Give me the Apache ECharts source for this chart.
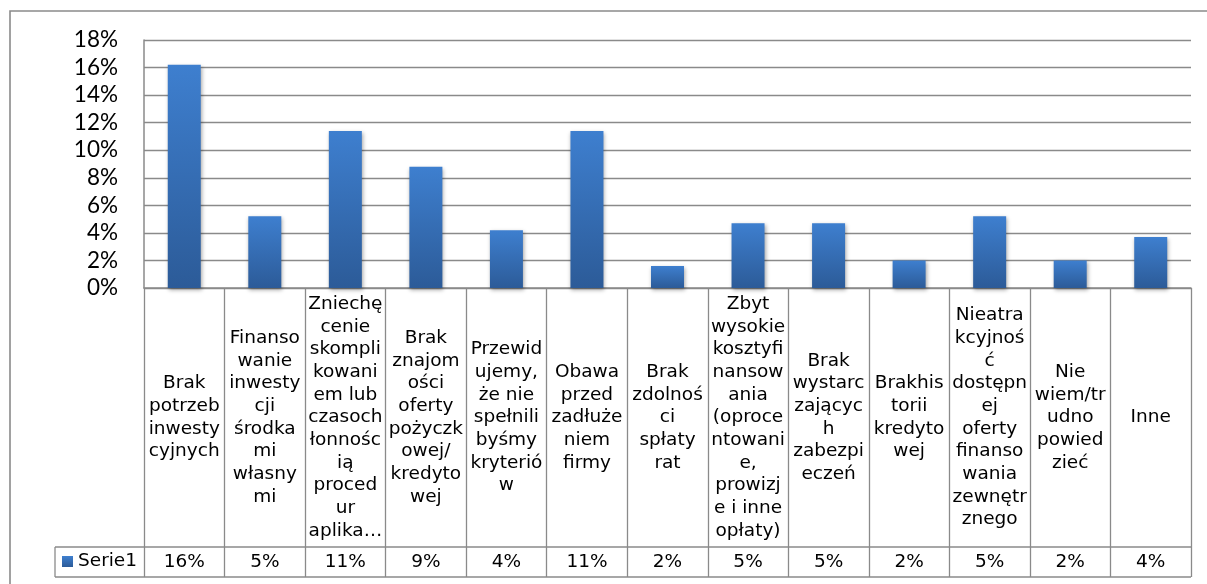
<!DOCTYPE html>
<html>
<head>
<meta charset="utf-8">
<script src="https://cdn.jsdelivr.net/npm/echarts@6/dist/echarts.min.js"></script>
<style>
  html, body { margin: 0; padding: 0; background: #fff; }
  #chart { width: 1207px; height: 584px; }
</style>
</head>
<body>
<div id="chart"></div>
<script>
// Category names, wrapped the way they appear in the data table cells
const categories = [
  'Brak\npotrzeb\ninwesty\ncyjnych',
  'Finanso\nwanie\ninwesty\ncji\nśrodka\nmi\nwłasny\nmi',
  'Zniechę\ncenie\nskompli\nkowani\nem lub\nczasoch\nłonnośc\nią\nproced\nur\naplika…',
  'Brak\nznajom\ności\noferty\npożyczk\nowej/\nkredyto\nwej',
  'Przewid\nujemy,\nże nie\nspełnili\nbyśmy\nkryterió\nw',
  'Obawa\nprzed\nzadłuże\nniem\nfirmy',
  'Brak\nzdolnoś\nci\nspłaty\nrat',
  'Zbyt\nwysokie\nkosztyfi\nnansow\nania\n(oproce\nntowani\ne,\nprowizj\ne i inne\nopłaty)',
  'Brak\nwystarc\nzającyc\nh\nzabezpi\neczeń',
  'Brakhis\ntorii\nkredyto\nwej',
  'Nieatra\nkcyjnoś\nć\ndostępn\nej\noferty\nfinanso\nwania\nzewnętr\nznego',
  'Nie\nwiem/tr\nudno\npowied\nzieć',
  'Inne'
];

// Share of answers, in percent
const serieName = 'Serie1';
const serieValues = [16.2, 5.2, 11.4, 8.8, 4.2, 11.4, 1.6, 4.7, 4.7, 2.0, 5.2, 2.0, 3.7];

// Value axis ticks (percent)
const yMin = 0;
const yMax = 18;
const yStep = 2;

const lineGray = '#8a8a8a';
const tableFont = 'DejaVu Sans';
const tableFontSize = 18.5;

const chart = echarts.init(document.getElementById('chart'));

const barGradient = new echarts.graphic.LinearGradient(0, 0, 0, 1, [
  { offset: 0, color: '#3e7fcf' },
  { offset: 1, color: '#2c5b98' }
]);

chart.setOption({
  animation: false,
  backgroundColor: '#ffffff',
  grid: [
    { left: 144, right: 16, top: 40, bottom: 296, containLabel: false },
    { left: 144, right: 16, top: 547, height: 30, containLabel: false }
  ],
  legend: {
    data: [serieName],
    left: 62,
    top: 552,
    padding: 0,
    itemWidth: 11,
    itemHeight: 11,
    itemGap: 5,
    icon: 'rect',
    textStyle: { fontFamily: tableFont, fontSize: tableFontSize, color: '#000' }
  },
  xAxis: [
    {
      type: 'category',
      gridIndex: 0,
      data: categories,
      axisLine: { show: true, lineStyle: { color: lineGray, width: 1.5 } },
      axisTick: { show: true, interval: 0, length: 289, lineStyle: { color: lineGray, width: 1.3 } },
      axisLabel: {
        interval: 0,
        margin: 129.5,
        verticalAlign: 'middle',
        align: 'center',
        lineHeight: 22.7,
        fontFamily: tableFont,
        fontSize: tableFontSize,
        color: '#000'
      }
    },
    {
      // value row of the data table
      type: 'category',
      gridIndex: 1,
      position: 'top',
      data: categories,
      axisLine: { show: false },
      axisTick: { show: false },
      axisLabel: {
        interval: 0,
        margin: -15,
        verticalAlign: 'middle',
        align: 'center',
        fontFamily: tableFont,
        fontSize: tableFontSize,
        color: '#000',
        formatter: (v, i) => Math.round(serieValues[i]) + '%'
      }
    }
  ],
  yAxis: [
    {
      type: 'value',
      gridIndex: 0,
      min: yMin,
      max: yMax,
      interval: yStep,
      axisLine: { show: true, lineStyle: { color: lineGray, width: 1.5 } },
      axisTick: { show: false },
      axisLabel: {
        margin: 26,
        fontFamily: 'Lato',
        fontSize: 22.5,
        color: '#000',
        formatter: '{value}%'
      },
      splitLine: { show: true, lineStyle: { color: lineGray, width: 1.3 } }
    },
    { type: 'value', gridIndex: 1, min: 0, max: 1, show: false }
  ],
  series: [
    {
      name: serieName,
      type: 'bar',
      xAxisIndex: 0,
      yAxisIndex: 0,
      data: serieValues,
      barWidth: 33,
      itemStyle: {
        color: barGradient,
        shadowBlur: 4,
        shadowColor: 'rgba(0,0,0,0.35)',
        shadowOffsetX: 1,
        shadowOffsetY: 2
      }
    }
  ],
  graphic: [
    {
      type: 'polyline',
      silent: true,
      shape: { points: [[10, 584], [10, 11], [1207, 11]] },
      style: { stroke: lineGray, lineWidth: 1.6, fill: null }
    },
    {
      type: 'line',
      silent: true,
      shape: { x1: 55, y1: 547, x2: 1191, y2: 547 },
      style: { stroke: lineGray, lineWidth: 1.3 }
    },
    {
      type: 'line',
      silent: true,
      shape: { x1: 55, y1: 577, x2: 1191, y2: 577 },
      style: { stroke: lineGray, lineWidth: 1.3 }
    },
    {
      type: 'line',
      silent: true,
      shape: { x1: 55, y1: 547, x2: 55, y2: 577 },
      style: { stroke: lineGray, lineWidth: 1.3 }
    }
  ]
});
</script>
</body>
</html>
